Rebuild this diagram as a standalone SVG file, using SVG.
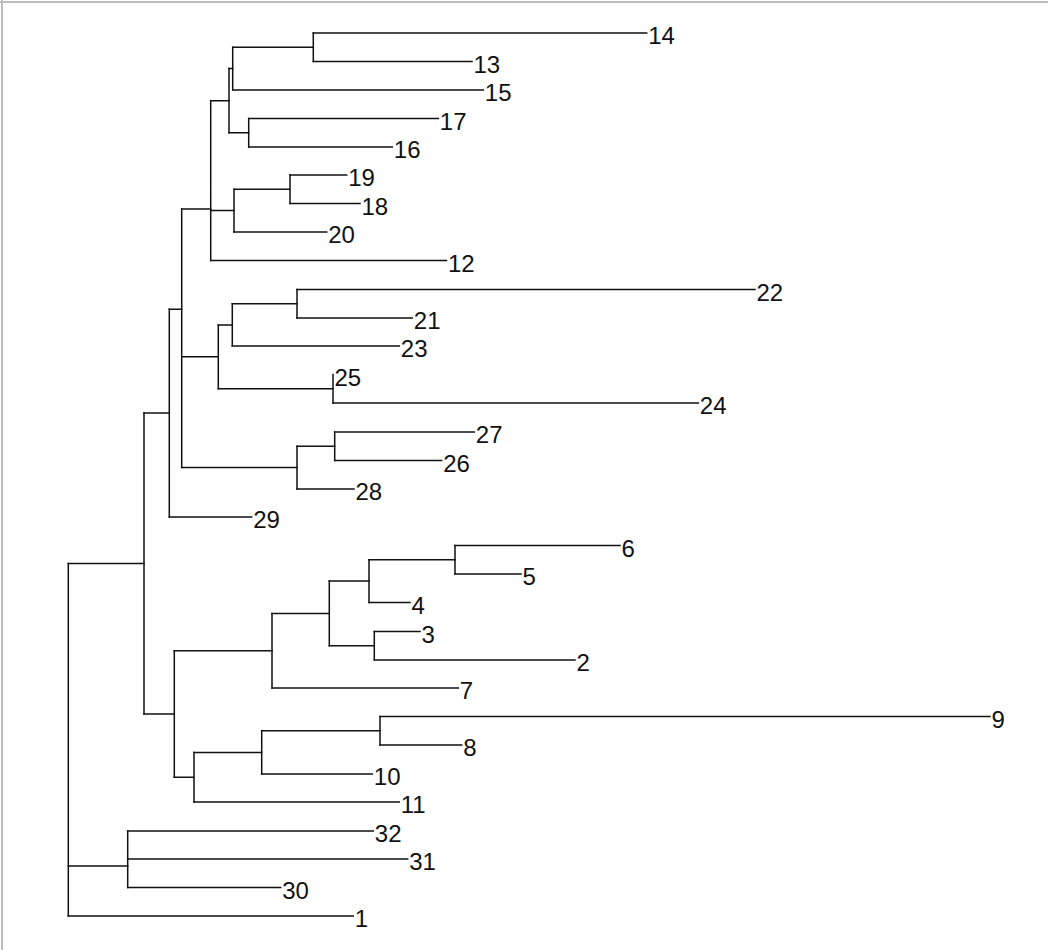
<svg xmlns="http://www.w3.org/2000/svg" width="1048" height="950" viewBox="0 0 1048 950">
<style>
.e{fill:none;stroke:#111;stroke-width:1.5;stroke-linecap:square}
.l{font-family:"Liberation Sans",Arial,sans-serif;font-size:24px;fill:#111}
.f{stroke:#bdbdbd;stroke-width:2;fill:none}
</style>
<rect x="0" y="0" width="1048" height="950" fill="#fff"/>
<path class="f" d="M0 2H1048M2 0V950"/>
<g id="connectors">
<path class="e" d="M313.3 33V61.5M232.7 47.25V90M248.7 118.5V147M229 68.6V132.75M290 175V203.5M234 189.25V232M210.7 100.7V260.5M297 289.5V318M232.3 303.75V346M333 374.5V403M218.3 324.9V388.75M334.7 432V460.5M297 446.25V489M181.7 209V467.6M169.3 309.3V517M455 545.5V574M369 559.75V602.5M374.3 631.5V660M329.3 581.1V645.75M272 613.4V688M380 716.5V745M261.7 730.75V774M194 752.4V802M174.3 650.7V777.2M144 413V714M127.7 831V887.5M68.3 563.5V916"/>
<path class="e" d="M313.3 33H646.7M313.3 61.5H472M232.7 47.25H313.3M232.7 90H483.3M229 68.6H232.7M248.7 118.5H438.3M248.7 147H392.3M229 132.75H248.7M210.7 100.7H229M290 175H346.7M290 203.5H360M234 189.25H290M234 232H326.7M210.7 210.6H234M210.7 260.5H446.5M181.7 209H210.7M297 289.5H755M297 318H412.3M232.3 303.75H297M232.3 346H399.3M218.3 324.9H232.3M333 403H698.3M218.3 388.75H333M181.7 356.8H218.3M334.7 432H474.3M334.7 460.5H441.7M297 446.25H334.7M297 489H354M181.7 467.6H297M169.3 309.3H181.7M169.3 517H251.7M144 413H169.3M455 545.5H620M455 574H521M369 559.75H455M369 602.5H410M329.3 581.1H369M374.3 631.5H420M374.3 660H575M329.3 645.75H374.3M272 613.4H329.3M272 688H458.3M174.3 650.7H272M380 716.5H990M380 745H461.7M261.7 730.75H380M261.7 774H372.3M194 752.4H261.7M194 802H399.3M174.3 777.2H194M144 714H174.3M68.3 563.5H144M127.7 831H373.3M127.7 859H407.7M127.7 887.5H280.7M68.3 866H127.7M68.3 916H353.3"/>
</g>
<g id="leaf-14"><text class="l" x="648.2" y="44">14</text></g>
<g id="leaf-13"><text class="l" x="473.5" y="72.5">13</text></g>
<g id="leaf-15"><text class="l" x="484.8" y="101">15</text></g>
<g id="leaf-17"><text class="l" x="439.8" y="129.5">17</text></g>
<g id="leaf-16"><text class="l" x="393.8" y="158">16</text></g>
<g id="leaf-19"><text class="l" x="348.2" y="186">19</text></g>
<g id="leaf-18"><text class="l" x="361.5" y="214.5">18</text></g>
<g id="leaf-20"><text class="l" x="328.2" y="243">20</text></g>
<g id="leaf-12"><text class="l" x="448" y="271.5">12</text></g>
<g id="leaf-22"><text class="l" x="756.5" y="300.5">22</text></g>
<g id="leaf-21"><text class="l" x="413.8" y="329">21</text></g>
<g id="leaf-23"><text class="l" x="400.8" y="357">23</text></g>
<g id="leaf-25"><text class="l" x="334.5" y="385.5">25</text></g>
<g id="leaf-24"><text class="l" x="699.8" y="414">24</text></g>
<g id="leaf-27"><text class="l" x="475.8" y="443">27</text></g>
<g id="leaf-26"><text class="l" x="443.2" y="471.5">26</text></g>
<g id="leaf-28"><text class="l" x="355.5" y="500">28</text></g>
<g id="leaf-29"><text class="l" x="253.2" y="528">29</text></g>
<g id="leaf-6"><text class="l" x="621.5" y="556.5">6</text></g>
<g id="leaf-5"><text class="l" x="522.5" y="585">5</text></g>
<g id="leaf-4"><text class="l" x="411.5" y="613.5">4</text></g>
<g id="leaf-3"><text class="l" x="421.5" y="642.5">3</text></g>
<g id="leaf-2"><text class="l" x="576.5" y="671">2</text></g>
<g id="leaf-7"><text class="l" x="459.8" y="699">7</text></g>
<g id="leaf-9"><text class="l" x="991.5" y="727.5">9</text></g>
<g id="leaf-8"><text class="l" x="463.2" y="756">8</text></g>
<g id="leaf-10"><text class="l" x="373.8" y="785">10</text></g>
<g id="leaf-11"><text class="l" x="400.8" y="813">11</text></g>
<g id="leaf-32"><text class="l" x="374.8" y="842">32</text></g>
<g id="leaf-31"><text class="l" x="409.2" y="870">31</text></g>
<g id="leaf-30"><text class="l" x="282.2" y="898.5">30</text></g>
<g id="leaf-1"><text class="l" x="354.8" y="927">1</text></g>
</svg>
